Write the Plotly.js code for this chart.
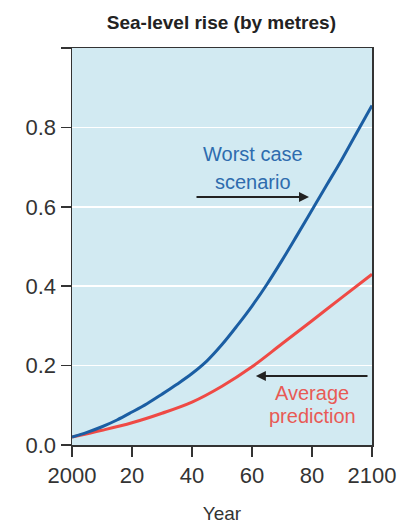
<!DOCTYPE html>
<html>
<head>
<meta charset="utf-8">
<script src="https://cdn.plot.ly/plotly-3.0.1.min.js"></script>
<style>html,body{margin:0;padding:0;background:#fff;}#chart{width:410px;height:524px;}</style>
</head>
<body>
<div id="chart"></div>
<script>
const worstYears = [2000, 2005, 2010, 2015, 2020, 2025, 2030, 2035, 2040, 2045, 2050, 2055, 2060, 2065, 2070, 2075, 2080, 2085, 2090, 2095, 2100];
const worstCase = [0.02, 0.032, 0.046, 0.063, 0.083, 0.104, 0.128, 0.153, 0.18, 0.212, 0.253, 0.3, 0.35, 0.405, 0.465, 0.528, 0.592, 0.656, 0.72, 0.788, 0.855];
const averageYears = [2000, 2010, 2020, 2030, 2040, 2050, 2060, 2070, 2080, 2090, 2100];
const averagePrediction = [0.02, 0.037, 0.056, 0.08, 0.108, 0.148, 0.197, 0.255, 0.313, 0.372, 0.43];
const xTickVals = [2000, 2020, 2040, 2060, 2080, 2100];
const xTickText = ['2000', '20', '40', '60', '80', '2100'];
const yTickVals = [0, 0.2, 0.4, 0.6, 0.8, 1.0];
const yTickText = ['0.0', '0.2', '0.4', '0.6', '0.8', ''];

const font = 'Liberation Sans, Arial, sans-serif';

const traces = [
  {x: averageYears, y: averagePrediction, mode: 'lines', name: 'Average prediction',
   line: {color: '#ef4a45', width: 3, shape: 'spline', smoothing: 1}, hoverinfo: 'skip'},
  {x: worstYears, y: worstCase, mode: 'lines', name: 'Worst case scenario',
   line: {color: '#1b5ea3', width: 3, shape: 'spline', smoothing: 1}, hoverinfo: 'skip'}
];

const layout = {
  width: 410, height: 524,
  margin: {l: 72, r: 38, t: 48, b: 79},
  paper_bgcolor: '#ffffff',
  plot_bgcolor: '#d2eaf2',
  showlegend: false,
  font: {family: font, color: '#333333'},
  title: {text: '<b>Sea-level rise (by metres)</b>', font: {family: font, size: 19, color: '#222222'},
          x: 0.54, xanchor: 'center', y: 0.957, yanchor: 'middle', yref: 'container'},
  xaxis: {
    range: [2000, 2100], tickvals: xTickVals, ticktext: xTickText,
    ticks: 'outside', ticklen: 10, tickwidth: 1.5, tickcolor: '#333333',
    showline: true, linecolor: '#333333', linewidth: 1.5, mirror: true,
    showgrid: false, zeroline: false,
    tickfont: {size: 22, color: '#333333'},
    title: {text: 'Year', font: {size: 19, color: '#333333'}, standoff: 24}
  },
  yaxis: {
    range: [0, 1.0], tickvals: yTickVals, ticktext: yTickText,
    ticks: 'outside', ticklen: 10, tickwidth: 1.5, tickcolor: '#333333',
    showline: true, linecolor: '#333333', linewidth: 1.5, mirror: true,
    showgrid: true, gridcolor: '#ffffff', gridwidth: 1.5, zeroline: false,
    tickfont: {size: 22, color: '#333333'}
  },
  annotations: [
    {x: 2079, y: 0.625, ax: 2041, ay: 0.625, xref: 'x', yref: 'y', axref: 'x', ayref: 'y',
     text: '', showarrow: true, arrowhead: 2, arrowsize: 1, arrowwidth: 2, arrowcolor: '#222222'},
    {x: 2061.3, y: 0.174, ax: 2099, ay: 0.174, xref: 'x', yref: 'y', axref: 'x', ayref: 'y',
     text: '', showarrow: true, arrowhead: 2, arrowsize: 1, arrowwidth: 2, arrowcolor: '#222222'},
    {x: 2060.3, y: 0.732, xref: 'x', yref: 'y', text: 'Worst case', showarrow: false,
     font: {size: 20, color: '#2e6cae'}, xanchor: 'center', yanchor: 'middle'},
    {x: 2060.3, y: 0.662, xref: 'x', yref: 'y', text: 'scenario', showarrow: false,
     font: {size: 20, color: '#2e6cae'}, xanchor: 'center', yanchor: 'middle'},
    {x: 2080, y: 0.131, xref: 'x', yref: 'y', text: 'Average', showarrow: false,
     font: {size: 20, color: '#e85a55'}, xanchor: 'center', yanchor: 'middle'},
    {x: 2080, y: 0.073, xref: 'x', yref: 'y', text: 'prediction', showarrow: false,
     font: {size: 20, color: '#e85a55'}, xanchor: 'center', yanchor: 'middle'}
  ]
};

Plotly.newPlot('chart', traces, layout, {staticPlot: true, displayModeBar: false});
</script>
</body>
</html>
